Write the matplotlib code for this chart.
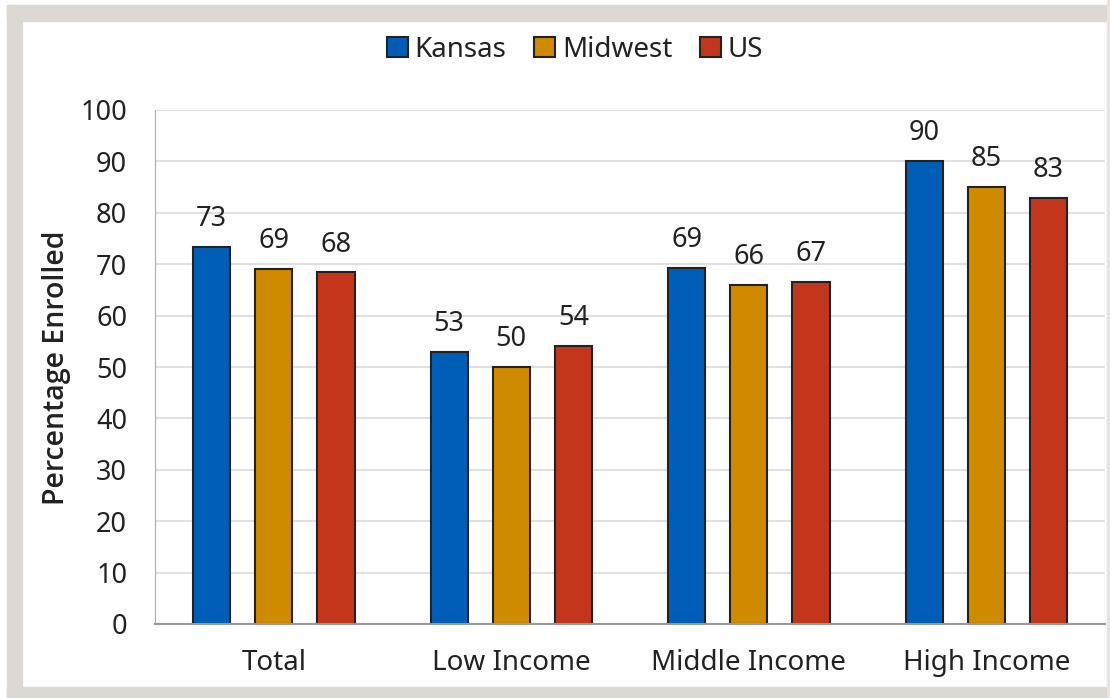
import matplotlib.pyplot as plt
import numpy as np
from matplotlib.patches import Patch, Rectangle

categories = ["Total", "Low Income", "Middle Income", "High Income"]
series = ["Kansas", "Midwest", "US"]
kansas = [73.3, 52.9, 69.3, 90.1]
midwest = [69.1, 50.0, 66.0, 85.0]
us = [68.4, 54.1, 66.6, 82.9]
colors = ["#005EB8", "#D08A00", "#C4361C"]

plt.rcParams['font.family'] = ['Noto Sans', 'DejaVu Sans']
text_color = "#222222"

fig = plt.figure(figsize=(11.1, 6.98), dpi=100, facecolor="white")

# grey frame around the chart
W, H = 1110, 698
fig.patches.append(Rectangle((7 / W, 0), 15 / W, (H - 5) / H, transform=fig.transFigure,
                             color="#DCD8D4", zorder=0))
fig.patches.append(Rectangle((7 / W, (H - 21) / H), 1, 16 / H, transform=fig.transFigure,
                             color="#DCD8D4", zorder=0))
fig.patches.append(Rectangle((7 / W, 0), 1, 11 / H, transform=fig.transFigure,
                             color="#DCD8D4", zorder=0))
fig.patches.append(Rectangle((1107 / W, 0), 3 / W, 1, transform=fig.transFigure,
                             color="#E6E3E0", zorder=0))

ax = fig.add_axes([155 / W, 74 / H, 950 / W, 514 / H])

x = np.arange(len(categories))
width = 0.156
step = 0.262
for i, (name, vals) in enumerate(zip(series, [kansas, midwest, us])):
    bars = ax.bar(x + (i - 1) * step, vals, width, color=colors[i],
                  edgecolor="#222222", linewidth=1.5, label=name, zorder=3)
    for b, v in zip(bars, vals):
        ax.annotate(f"{round(v)}", (b.get_x() + b.get_width() / 2, v),
                    xytext=(0, 10), textcoords="offset points",
                    ha="center", va="bottom", fontsize=19.5, color=text_color)

ax.set_xlim(-0.5, 3.5)
ax.set_ylim(0, 100)
ax.set_yticks(range(0, 101, 10))
ax.set_xticks(x)
ax.set_xticklabels(categories)
ax.tick_params(axis="both", length=0, labelsize=19.5, labelcolor=text_color)
ax.tick_params(axis="y", pad=20)
ax.tick_params(axis="x", labelsize=20, pad=18)
ax.grid(axis="y", color="#E0E0E0", linewidth=1.5, zorder=0)
for s in ["top", "right"]:
    ax.spines[s].set_visible(False)
ax.spines["left"].set_color("#AAAAAA")
ax.spines["bottom"].set_color("#999999")
ax.spines["bottom"].set_linewidth(1.5)
ax.spines["bottom"].set_zorder(4)

fig.text(57 / W, 1 - 368 / H, "Percentage Enrolled", rotation=90, ha="center", va="center",
         fontsize=20.5, family=["Open Sans", "DejaVu Sans"], fontweight="semibold",
         color=text_color)

handles = [Patch(facecolor=c, edgecolor="#222222", linewidth=1.5) for c in colors]
fig.legend(handles, series, loc="center", bbox_to_anchor=(575 / W, 1 - 50 / H), ncol=3,
           frameon=False, fontsize=20, handlelength=0.75, handleheight=0.75,
           handletextpad=0.25, columnspacing=1.0, labelcolor=text_color)

fig.savefig("out.png", dpi=100, facecolor="white")
